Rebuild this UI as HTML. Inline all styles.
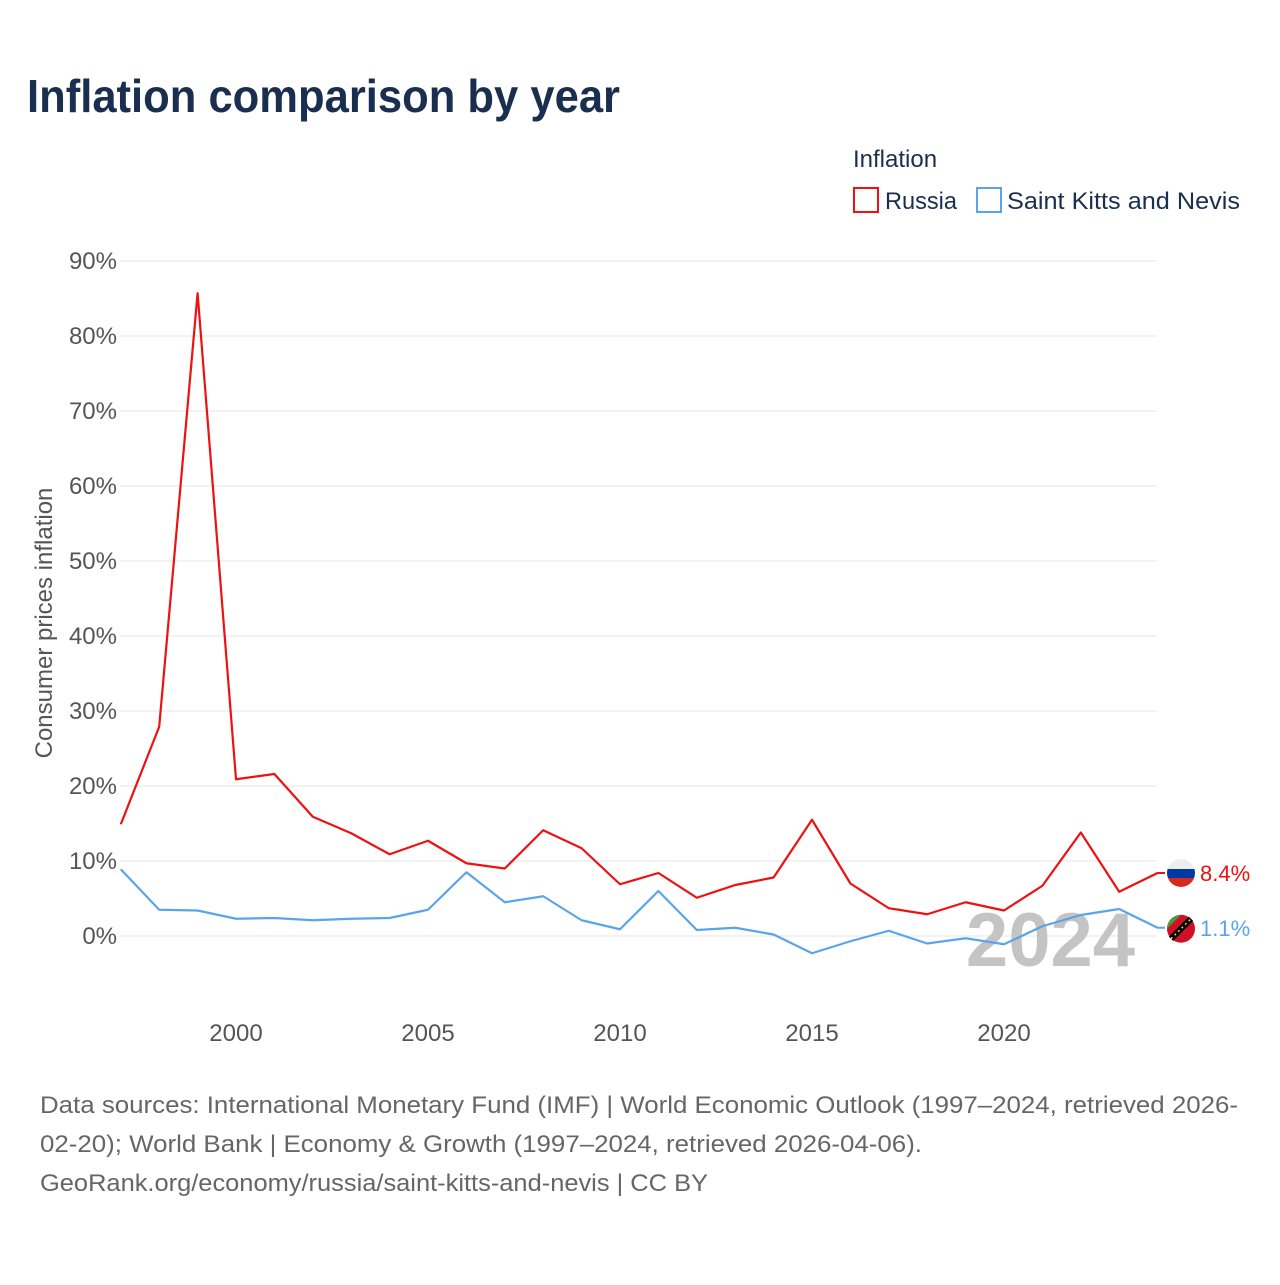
<!DOCTYPE html>
<html><head><meta charset="utf-8"><style>
body{margin:0;background:#fff;font-family:"Liberation Sans",sans-serif;}
</style></head><body>
<svg width="1280" height="1280" xmlns="http://www.w3.org/2000/svg">
<defs><clipPath id="cr"><circle cx="1181" cy="873" r="14"/></clipPath></defs>
<text x="27" y="112" font-size="46" font-weight="bold" fill="#1a2e4f" textLength="593" lengthAdjust="spacingAndGlyphs">Inflation comparison by year</text>
<text x="853" y="167" font-size="24" fill="#1a2e4f">Inflation</text>
<g><rect x="854" y="188" width="24" height="24" fill="none" stroke="#ee1111" stroke-width="2"/><text x="885" y="209" font-size="24" fill="#1a2e4f" textLength="72" lengthAdjust="spacingAndGlyphs">Russia</text></g>
<g><rect x="977" y="188" width="24" height="24" fill="none" stroke="#5aa5ea" stroke-width="2"/><text x="1007" y="209" font-size="24" fill="#1a2e4f" textLength="233" lengthAdjust="spacingAndGlyphs">Saint Kitts and Nevis</text></g>
<g id="grid"></g>
<text x="1135" y="966" font-size="76" font-weight="bold" fill="#c4c4c4" text-anchor="end">2024</text>
<text transform="translate(52,623) rotate(-90)" font-size="24" fill="#555" text-anchor="middle">Consumer prices inflation</text>
<g id="series"></g>
<g font-size="24" fill="#666">
<text x="40" y="1113" textLength="1198" lengthAdjust="spacingAndGlyphs">Data sources: International Monetary Fund (IMF) | World Economic Outlook (1997–2024, retrieved 2026-</text>
<text x="40" y="1152" textLength="882" lengthAdjust="spacingAndGlyphs">02-20); World Bank | Economy &amp; Growth (1997–2024, retrieved 2026-04-06).</text>
<text x="40" y="1191" textLength="668" lengthAdjust="spacingAndGlyphs">GeoRank.org/economy/russia/saint-kitts-and-nevis | CC BY</text>
</g>
</svg>
<script>
const years=[1997,1998,1999,2000,2001,2002,2003,2004,2005,2006,2007,2008,2009,2010,2011,2012,2013,2014,2015,2016,2017,2018,2019,2020,2021,2022,2023,2024];
const russia=[14.9,27.9,85.7,20.9,21.6,15.9,13.7,10.9,12.7,9.7,9.0,14.1,11.7,6.9,8.4,5.1,6.8,7.8,15.5,7.0,3.7,2.9,4.5,3.4,6.7,13.8,5.9,8.4];
const skn=[8.9,3.5,3.4,2.3,2.4,2.1,2.3,2.4,3.5,8.5,4.5,5.3,2.1,0.9,6.0,0.8,1.1,0.2,-2.3,-0.7,0.7,-1.0,-0.3,-1.1,1.3,2.8,3.6,1.1];
const yTicks=[0,10,20,30,40,50,60,70,80,90];
const xTicks=[2000,2005,2010,2015,2020];
const NS="http://www.w3.org/2000/svg";
const x=v=>236+(v-2000)*38.4;
const y=v=>936-v*7.5;
const grid=document.getElementById('grid'),ser=document.getElementById('series');
function mk(tag,a,p){const e=document.createElementNS(NS,tag);for(const k in a)e.setAttribute(k,a[k]);p.appendChild(e);return e;}
yTicks.forEach(t=>{
 const l=mk('line',{x1:120,x2:1157,y1:y(t),y2:y(t),stroke:'#e6e6e6','stroke-width':1},grid);
 
 
 const tx=mk('text',{x:117,y:y(t)+8,'font-size':24,fill:'#555','text-anchor':'end'},grid);tx.textContent=t+'%';
 
 
});
xTicks.forEach(t=>{
 const tx=mk('text',{x:x(t),y:1041,'font-size':24,fill:'#555','text-anchor':'middle'},grid);tx.textContent=t;
 
 
});
function line(vals,col,name){
 const p=mk('polyline',{points:vals.map((v,i)=>x(years[i])+','+y(v)).join(' '),fill:'none',stroke:col,'stroke-width':2.2,'stroke-linejoin':'round'},ser);
 
 
}
line(skn,'#5aa5ea','skn-line');
line(russia,'#ee1111','russia-line');
const rl=russia[russia.length-1],sl=skn[skn.length-1];
const cy=y(rl);
mk('line',{x1:1157,x2:1165,y1:cy,y2:cy,stroke:'#ee1111','stroke-width':2},ser);
mk('line',{x1:1157,x2:1165,y1:y(sl),y2:y(sl),stroke:'#5aa5ea','stroke-width':2},ser);
document.querySelector('#cr circle').setAttribute('cy',cy);
const fr=mk('g',{'clip-path':'url(#cr)'},ser);


mk('rect',{x:1167,y:cy-14,width:28,height:10,fill:'#eee'},fr);
mk('rect',{x:1167,y:cy-4,width:28,height:9,fill:'#0039a6'},fr);
mk('rect',{x:1167,y:cy+5,width:28,height:10,fill:'#d52b1e'},fr);
const fs=mk('g',{},ser);


const sc=y(sl)+1;
mk('circle',{cx:1181,cy:sc,r:14,fill:'#ce1126'},fs);
mk('path',{d:`M1167 ${sc} A14 14 0 0 1 1181 ${sc-14} L1167 ${sc}Z`,fill:'#4a9a3a'},fs);
mk('line',{x1:1171,y1:sc+10,x2:1191,y2:sc-10,stroke:'#000','stroke-width':6},fs);
mk('line',{x1:1171,y1:sc+10,x2:1191,y2:sc-10,stroke:'#fcd116','stroke-width':1.5,'stroke-dasharray':'2 3'},fs);
const t1=mk('text',{x:1200,y:y(rl)+8,'font-size':22,fill:'#ee1111'},ser);t1.textContent=rl.toFixed(1)+'%';


const t2=mk('text',{x:1200,y:y(sl)+8,'font-size':22,fill:'#5aa5ea'},ser);t2.textContent=sl.toFixed(1)+'%';


</script>
</body></html>
